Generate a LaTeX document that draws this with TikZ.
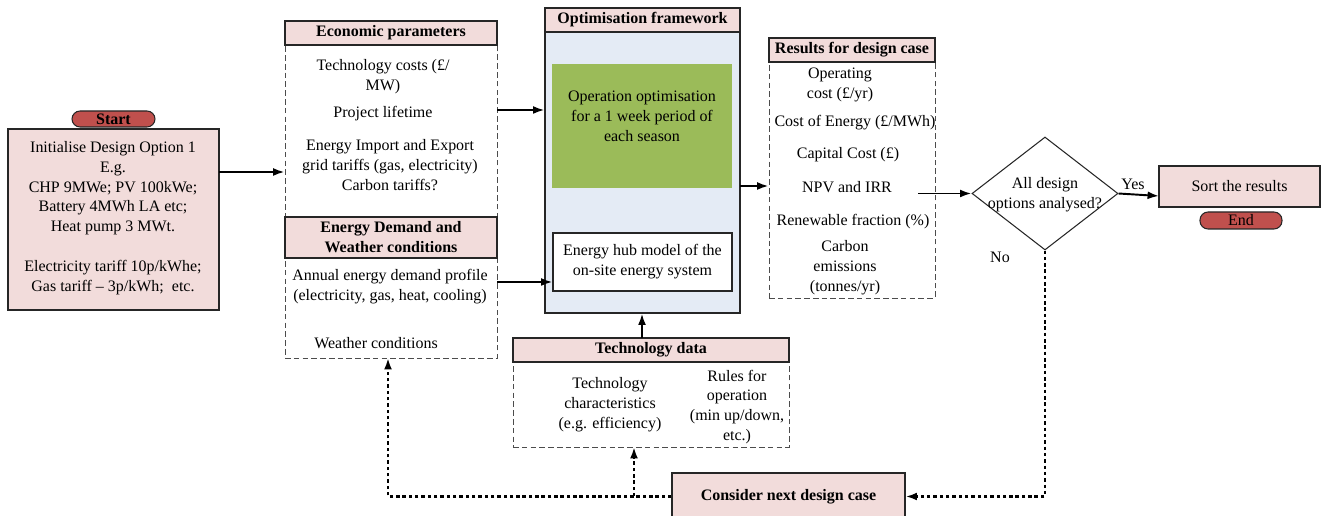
\documentclass[tikz,border=0pt]{standalone}
\usepackage{fontspec}
\setmainfont{Liberation Serif}
\usetikzlibrary{shapes.geometric,arrows.meta}
\definecolor{pinkfill}{HTML}{F2DCDB}
\definecolor{pillred}{HTML}{C0504D}
\definecolor{optblue}{HTML}{E4EBF5}
\definecolor{greenfill}{HTML}{9BBB59}
\begin{document}
\begin{tikzpicture}[x=0.02cm,y=-0.02cm,
  font=\fontsize{9.1}{11.3}\selectfont,
  sz/.style 2 args={minimum width=#1*0.02cm, minimum height=#2*0.02cm},
  solidbox/.style={draw=black!85, line width=0.6pt, inner sep=0pt, align=center},
  hdr/.style={solidbox, fill=pinkfill, font=\fontsize{9.1}{11.3}\selectfont\bfseries},
  dashbox/.style={draw=black!70, line width=0.5pt, dash pattern=on 3.2pt off 1.8pt, inner sep=0pt},
  txt/.style={align=center, inner sep=0pt},
  pill/.style={draw=black!85, line width=0.6pt, fill=pillred, rounded corners=1.6mm, inner sep=0pt},
  flow/.style={-{Latex[length=6.5pt,width=4.5pt]}, line width=1.1pt},
  loopline/.style={flow, dash pattern=on 2pt off 1.6pt, line width=1.3pt}]
\useasboundingbox (0,0) rectangle (1323,516);

% Start and initialise
\node[pill, sz={83}{16}] (start) at (113.5,119) {\textbf{Start}};
\node[solidbox, fill=pinkfill, sz={211}{181}] (init) at (113.5,219.5) {};
\node[txt] (inittxt) at (113,218) {Initialise Design Option 1\\E.g.\\CHP 9MWe; PV 100kWe;\\Battery 4MWh LA etc;\\Heat pump 3 MWt.\\[11.3pt]Electricity tariff 10p/kWhe;\\Gas tariff -- 3p/kWh;~ etc.};

% Economic parameters and demand
\node[dashbox, sz={212}{172}] (econ) at (391,131) {};
\node[dashbox, sz={212}{100}] (dem) at (391,308) {};
\node[hdr, sz={212}{24}] (econhdr) at (391,33) {Economic parameters};
\node[hdr, sz={212}{41}] (demhdr) at (391,237.5) {Energy Demand and\\Weather conditions};
\node[txt] (tc) at (383,77) {Technology costs (£/\\MW)};
\node[txt] (pl) at (383,114) {Project lifetime};
\node[txt] (gt) at (390,165) {Energy Import and Export\\grid tariffs (gas, electricity)\\Carbon tariffs?};
\node[txt] (ad) at (390,287) {Annual energy demand profile\\(electricity, gas, heat, cooling)};
\node[txt] (wc) at (376,343) {Weather conditions};

% Optimisation framework
\node[solidbox, fill=optblue, sz={195}{281}] (opt) at (642.5,172.5) {};
\node[hdr, sz={195}{24}] (opthdr) at (642.5,20) {Optimisation framework};
\node[fill=greenfill, inner sep=0pt, sz={180}{124}] (green) at (642,126) {};
\node[txt] (greentxt) at (642,116) {Operation optimisation\\for a 1 week period of\\each season};
\node[solidbox, fill=white, sz={179}{58}] (hub) at (642.5,262) {Energy hub model of the\\on-site energy system};

% Results
\node[dashbox, sz={166}{236}] (res) at (852,180) {};
\node[hdr, sz={166}{24}] (reshdr) at (852,50) {Results for design case};
\node[txt] (r1) at (840,85) {Operating\\cost (£/yr)};
\node[txt] (r2) at (855,123) {Cost of Energy (£/MWh)};
\node[txt] (r3) at (848,155) {Capital Cost (£)};
\node[txt] (r4) at (847,187) {NPV and IRR};
\node[txt] (r5) at (853,222) {Renewable fraction (\%)};
\node[txt] (r6) at (845,268) {Carbon\\emissions\\(tonnes/yr)};

% Decision
\node[draw=black!85, line width=0.6pt, diamond, inner sep=0pt, sz={146}{113}] (dia) at (1045,193.5) {};
\node[txt] (diatxt) at (1045,195) {All design\\options analysed?};
\node[txt] (yes) at (1133,184) {Yes};
\node[txt] (no) at (1000,257) {No};
\node[solidbox, fill=pinkfill, sz={161}{41}] (sort) at (1239.5,186.5) {Sort the results};
\node[pill, sz={82}{17}] (end) at (1241,220.5) {End};

% Technology data
\node[dashbox, sz={276}{85}] (tech) at (651,404.5) {};
\node[hdr, sz={276}{24}] (techhdr) at (651,350) {Technology data};
\node[txt] (t1) at (610,405) {Technology\\characteristics\\(e.g. efficiency)};
\node[txt] (t2) at (737,407) {Rules for\\operation\\(min up/down,\\etc.)};

% Next design case
\node[hdr, sz={233}{47}] (next) at (788.5,496.5) {Consider next design case};

% Connectors
\coordinate (a1) at (219,172);
\draw[flow] (a1) -- (a1 -| econ.west);
\coordinate (a2) at (497,110);
\draw[flow] (a2) -- (a2 -| opt.west);
\coordinate (a3) at (497,282);
\draw[flow] (a3) -- (a3 -| hub.west);
\coordinate (a4) at (740,186);
\draw[flow] (a4) -- (a4 -| res.west);
\coordinate (tup) at (642,338);
\draw[flow] (tup) -- (tup |- opt.south);
\coordinate (a5) at (918,193.5);
\draw[flow] (a5) -- (dia.west);
\coordinate (yesend) at (1159,196);
\draw[flow] (dia.east) -- (yesend);

\draw[loopline] (dia.south) |- (next.east);
\coordinate (wcin) at (388,358);
\draw[loopline] (next.west) -| (wcin);
\coordinate (tin) at (634,447);
\draw[loopline] (tin |- next.west) -- (tin);
\end{tikzpicture}
\end{document}
